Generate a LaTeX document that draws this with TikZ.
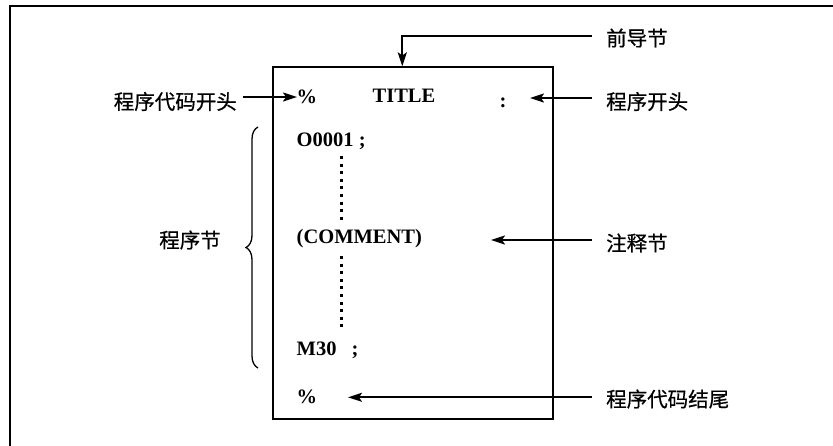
\documentclass[tikz,border=0pt]{standalone}
\usepackage{fontspec}
\setmainfont{Liberation Serif}
\newfontfamily\cjk[FakeBold=0.6]{Noto Sans CJK SC}
\usetikzlibrary{arrows.meta,decorations.pathreplacing}
\begin{document}
\begin{tikzpicture}[x=1pt,y=-1pt,
  code/.style={font=\fontsize{20.5}{24}\selectfont\bfseries, inner sep=0pt, anchor=west},
  lbl/.style={font=\fontsize{20.5}{24}\selectfont\cjk, inner sep=0pt},
  arr/.style={line width=2pt, -{Stealth[length=14pt,width=9pt,inset=3pt]}},
  dots/.style={line width=3pt, dash pattern=on 3pt off 4.6pt},
]
\useasboundingbox (0,0) rectangle (833,445);
% outer frame (top and left only)
\draw[line width=2pt] (10,446) -- (10,6.3) -- (834,6.3);
% inner box
\node[draw, line width=1.2pt, minimum width=280pt, minimum height=352pt, inner sep=0pt] (box) at (413,243) {};
% code lines
\node[code] (pct1) at (296.5,97) {\%};
\node[code, anchor=center] (title) at (404,96) {TITLE};
\node[code, anchor=center] (colon) at (503,103) {:};
\node[code] (o1) at (296.5,141) {O0001 ;};
\node[code] (cmt) at (296.5,239) {(COMMENT)};
\node[code] (m30) at (296.5,350.5) {M30\hspace{15pt};};
\node[code] (pct2) at (296.5,397) {\%};
% dotted continuation
\coordinate (d1a) at (341.7,156);
\coordinate (d1b) at (341.7,222);
\coordinate (d2a) at (341.7,256);
\coordinate (d2b) at (341.7,330);
\draw[dots] (d1a) -- (d1b);
\draw[dots] (d2a) -- (d2b);
% labels
\node[lbl, anchor=west] (lead) at (606,38) {前导节};
\node[lbl, anchor=east] (pcs) at (237,101.5) {程序代码开头};
\node[lbl, anchor=west] (ps) at (606,101.5) {程序开头};
\node[lbl, anchor=center] (blk) at (190,240) {程序节};
\node[lbl, anchor=west] (cm) at (606,243) {注释节};
\node[lbl, anchor=west] (pce) at (606,399) {程序代码结尾};
% arrow end points
\coordinate (leadS) at (591.5,36);
\coordinate (leadC) at (402.3,36);
\coordinate (pcsS) at (243,97);
\coordinate (pcsE) at (297,97);
\coordinate (psS) at (591.5,98);
\coordinate (psE) at (530,98);
\coordinate (cmS) at (591.5,240);
\coordinate (cmE) at (491,240);
\coordinate (pceS) at (591.5,397.3);
\coordinate (pceE) at (348,397.3);
% connectors
\draw[arr] (leadS) -- (leadC) -- (leadC |- box.north);
\draw[arr] (pcsS) -- (pcsE);
\draw[arr] (psS) -- (psE);
\draw[arr] (cmS) -- (cmE);
\draw[arr] (pceS) -- (pceE);
% brace
\coordinate (brB) at (258,368);
\coordinate (brT) at (258,127);
\draw[line width=1.3pt, decorate, decoration={brace, amplitude=12pt}] (brB) -- (brT);
\end{tikzpicture}
\end{document}
